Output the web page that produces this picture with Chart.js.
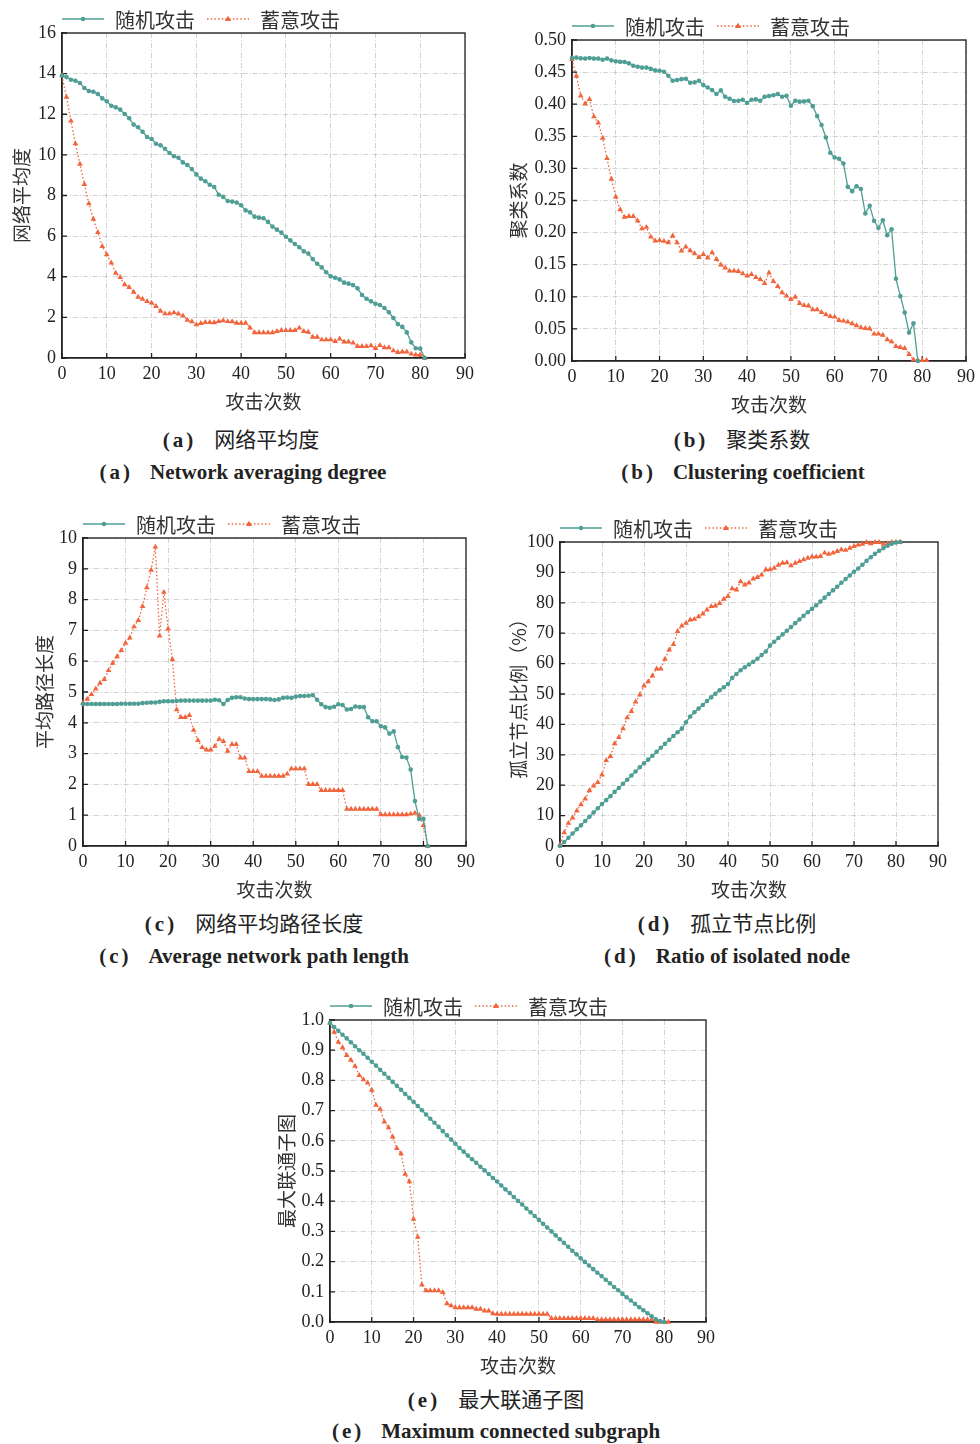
<!DOCTYPE html>
<html>
<head>
<meta charset="utf-8">
<script src="https://cdn.jsdelivr.net/npm/chart.js@4.4.1/dist/chart.umd.min.js"></script>
<style>
  body { margin: 0; background: #fff; width: 980px; height: 1444px; position: relative; overflow: hidden; }
  canvas { position: absolute; }
  .cap { position: absolute; transform: translateX(-50%); white-space: nowrap; color: #222; line-height: 26px; }
  .cap .lab { font: bold 21px "Liberation Serif"; letter-spacing: 3px; }
  .cn { font: 21px "Noto Sans CJK SC"; }
  .cn .lab { margin-right: 18px; }
  .en { font: bold 21px "Liberation Serif", "Noto Sans CJK SC"; }
  .en .lab { margin-right: 17px; }
</style>
</head>
<body>
<canvas id="chartA" width="479" height="413" style="left:0px;top:3px"></canvas>
<canvas id="chartB" width="480" height="409" style="left:500px;top:10px"></canvas>
<canvas id="chartC" width="460" height="396" style="left:20px;top:508px"></canvas>
<canvas id="chartD" width="452" height="392" style="left:500px;top:512px"></canvas>
<canvas id="chartE" width="455" height="390" style="left:265px;top:990px"></canvas>

<div class="cap cn" style="left:241px;top:423px"><span class="lab">(a)</span>网络平均度</div>
<div class="cap en" style="left:243px;top:460px"><span class="lab">(a)</span>Network averaging degree</div>
<div class="cap cn" style="left:742px;top:423px"><span class="lab">(b)</span>聚类系数</div>
<div class="cap en" style="left:743px;top:460px"><span class="lab">(b)</span>Clustering coefficient</div>
<div class="cap cn" style="left:254px;top:907px"><span class="lab">(c)</span>网络平均路径长度</div>
<div class="cap en" style="left:254px;top:944px"><span class="lab">(c)</span>Average network path length</div>
<div class="cap cn" style="left:727px;top:907px"><span class="lab">(d)</span>孤立节点比例</div>
<div class="cap en" style="left:727px;top:944px"><span class="lab">(d)</span>Ratio of isolated node</div>
<div class="cap cn" style="left:496px;top:1383px"><span class="lab">(e)</span>最大联通子图</div>
<div class="cap en" style="left:496px;top:1419px"><span class="lab">(e)</span>Maximum connected subgraph</div>

<script>
const attackCount = [0, 1, 2, 3, 4, 5, 6, 7, 8, 9, 10, 11, 12, 13, 14, 15, 16, 17, 18, 19,
  20, 21, 22, 23, 24, 25, 26, 27, 28, 29, 30, 31, 32, 33, 34, 35, 36, 37, 38, 39,
  40, 41, 42, 43, 44, 45, 46, 47, 48, 49, 50, 51, 52, 53, 54, 55, 56, 57, 58, 59,
  60, 61, 62, 63, 64, 65, 66, 67, 68, 69, 70, 71, 72, 73, 74, 75, 76, 77, 78, 79, 80, 81];

const seriesNames = ["随机攻击", "蓄意攻击"];
const xTitle = "攻击次数";

// (a) 网络平均度
const degreeRandom = [13.9, 13.83, 13.7, 13.65, 13.54, 13.29, 13.14, 13.11, 13.0, 12.78,
  12.64, 12.42, 12.34, 12.23, 12.01, 11.8, 11.49, 11.36, 11.14, 10.88,
  10.78, 10.55, 10.47, 10.3, 10.09, 9.93, 9.86, 9.63, 9.5, 9.3,
  9.04, 8.83, 8.7, 8.53, 8.42, 8.04, 7.93, 7.73, 7.7, 7.65,
  7.52, 7.27, 7.17, 6.96, 6.91, 6.88, 6.7, 6.47, 6.32, 6.17,
  5.97, 5.79, 5.61, 5.45, 5.25, 5.14, 4.87, 4.64, 4.46, 4.22,
  4.02, 3.95, 3.87, 3.71, 3.66, 3.59, 3.43, 3.1, 2.92, 2.79,
  2.67, 2.61, 2.46, 2.25, 1.97, 1.67, 1.53, 1.26, 0.77, 0.48,
  0.46, 0];
const degreeTargeted = [13.9, 12.85, 11.67, 10.55, 9.55, 8.55, 7.6, 6.84, 6.19, 5.5,
  5.09, 4.69, 4.18, 3.97, 3.61, 3.48, 3.25, 3.0, 2.9, 2.79,
  2.71, 2.54, 2.31, 2.18, 2.18, 2.23, 2.17, 2.08, 1.87, 1.79,
  1.64, 1.71, 1.76, 1.76, 1.74, 1.8, 1.84, 1.8, 1.79, 1.72,
  1.72, 1.72, 1.49, 1.25, 1.25, 1.25, 1.25, 1.25, 1.31, 1.36,
  1.36, 1.36, 1.36, 1.48, 1.31, 1.28, 1.03, 1.03, 0.9, 0.9,
  0.9, 0.82, 0.94, 0.8, 0.8, 0.74, 0.57, 0.57, 0.57, 0.61,
  0.48, 0.62, 0.51, 0.51, 0.36, 0.28, 0.3, 0.3, 0.2, 0.16,
  0.16, 0];

// (b) 聚类系数
const clusterRandom = [0.472, 0.4725, 0.4714, 0.471, 0.472, 0.471, 0.471, 0.4693, 0.471, 0.4683,
  0.467, 0.466, 0.4657, 0.4636, 0.46, 0.4584, 0.457, 0.457, 0.455, 0.4527,
  0.452, 0.4506, 0.4444, 0.4366, 0.4376, 0.439, 0.4397, 0.4335, 0.434, 0.4366,
  0.43, 0.426, 0.422, 0.416, 0.4215, 0.4116, 0.4085, 0.405, 0.4054, 0.407,
  0.4018, 0.407, 0.4075, 0.4054, 0.4116, 0.4127, 0.414, 0.416, 0.4116, 0.413,
  0.3976, 0.4054, 0.404, 0.4044, 0.4054, 0.397, 0.3815, 0.3675, 0.3482, 0.3243,
  0.317, 0.315, 0.3077, 0.2713, 0.2646, 0.2723, 0.268, 0.2297, 0.2417, 0.2183,
  0.2074, 0.2193, 0.196, 0.2053, 0.128, 0.101, 0.0754, 0.0442, 0.0587, 0,
  null, null];
const clusterTargeted = [0.47, 0.4439, 0.4132, 0.4007, 0.4075, 0.3805, 0.3711, 0.3472, 0.3155, 0.2833,
  0.2557, 0.236, 0.224, 0.2255, 0.2255, 0.2183, 0.2063, 0.2084, 0.1933, 0.1871,
  0.1881, 0.1866, 0.1845, 0.1949, 0.1845, 0.1715, 0.1778, 0.172, 0.1674, 0.1616,
  0.1663, 0.1606, 0.169, 0.1585, 0.1497, 0.145, 0.1403, 0.1403, 0.1398, 0.1362,
  0.1325, 0.1351, 0.1304, 0.1273, 0.1211, 0.1372, 0.1242, 0.1164, 0.1065, 0.1013,
  0.0961, 0.0998, 0.0899, 0.0868, 0.0858, 0.08, 0.08, 0.0759, 0.0722, 0.0696,
  0.0686, 0.0634, 0.0624, 0.0608, 0.0582, 0.0551, 0.052, 0.0509, 0.0504, 0.0421,
  0.0421, 0.0405, 0.0333, 0.0301, 0.0229, 0.0213, 0.0198, 0.0104, 0.002, 0.001,
  0.001, 0.001];

// (c) 网络平均路径长度
const pathRandom = [4.61, 4.61, 4.61, 4.61, 4.61, 4.61, 4.61, 4.61, 4.61, 4.62,
  4.62, 4.62, 4.62, 4.62, 4.64, 4.65, 4.66, 4.66, 4.68, 4.7,
  4.7, 4.7, 4.71, 4.72, 4.72, 4.72, 4.72, 4.72, 4.72, 4.72,
  4.72, 4.75, 4.73, 4.61, 4.74, 4.81, 4.83, 4.83, 4.79, 4.77,
  4.77, 4.77, 4.77, 4.77, 4.76, 4.74, 4.76, 4.81, 4.82, 4.81,
  4.85, 4.87, 4.87, 4.88, 4.9, 4.75, 4.6, 4.51, 4.49, 4.52,
  4.6, 4.58, 4.43, 4.45, 4.53, 4.51, 4.51, 4.18, 4.05, 4.05,
  3.89, 3.85, 3.65, 3.72, 3.21, 2.89, 2.87, 2.48, 1.46, 0.88,
  0.88, 0];
const pathTargeted = [4.65, 4.77, 4.92, 5.1, 5.29, 5.41, 5.7, 5.94, 6.15, 6.35,
  6.59, 6.76, 7.12, 7.33, 7.78, 8.39, 8.96, 9.71, 6.82, 8.24,
  7.05, 6.06, 4.43, 4.18, 4.18, 4.24, 3.76, 3.43, 3.2, 3.12,
  3.12, 3.24, 3.47, 3.4, 3.08, 3.3, 3.3, 2.86, 2.86, 2.42,
  2.42, 2.42, 2.27, 2.27, 2.27, 2.27, 2.27, 2.27, 2.34, 2.51,
  2.51, 2.51, 2.51, 2.0, 2.0, 2.0, 1.81, 1.81, 1.81, 1.81,
  1.81, 1.81, 1.2, 1.2, 1.2, 1.2, 1.2, 1.2, 1.2, 1.2,
  1.02, 1.02, 1.02, 1.02, 1.02, 1.02, 1.02, 1.04, 1.07, 1.0,
  0.67, 0];

// (d) 孤立节点比例
const isolatedRandom = [0, 1.3, 2.7, 4.1, 5.5, 6.8, 8.2, 9.6, 11.0, 12.4,
  13.8, 15.1, 16.4, 17.8, 19.1, 20.5, 21.8, 23.2, 24.5, 25.9,
  27.2, 28.4, 29.7, 31.0, 32.3, 33.6, 34.9, 36.2, 37.4, 38.6,
  40.7, 42.6, 44.0, 45.2, 46.4, 47.7, 48.9, 50.1, 51.2, 52.2,
  53.3, 55.3, 56.6, 57.8, 58.8, 59.7, 60.6, 61.6, 62.8, 64.0,
  65.9, 67.2, 68.4, 69.6, 70.8, 72.0, 73.3, 74.5, 75.7, 76.9,
  78.0, 79.2, 80.4, 81.7, 82.9, 84.1, 85.3, 86.6, 87.8, 89.0,
  90.2, 91.3, 92.5, 93.8, 95.0, 96.1, 97.1, 98.0, 98.8, 99.4,
  99.8, 100];
const isolatedTargeted = [0.5, 4.4, 7.5, 9.3, 11.6, 13.6, 15.5, 18.2, 19.8, 20.9,
  23.4, 28.2, 29.5, 33.7, 35.7, 38.6, 42.2, 44.3, 47.4, 49.7,
  52.7, 54.1, 56.0, 58.3, 58.3, 61.5, 64.5, 66.3, 70.6, 72.4,
  73.3, 74.4, 74.6, 75.5, 76.4, 77.7, 78.8, 79.0, 79.8, 81.2,
  82.1, 84.7, 84.3, 87.0, 85.9, 86.6, 87.9, 88.4, 89.2, 90.9,
  90.9, 91.4, 92.4, 93.1, 93.2, 92.2, 93.1, 93.6, 94.2, 94.7,
  95.1, 95.1, 95.3, 96.4, 96.0, 96.4, 96.9, 97.5, 97.3, 98.0,
  98.6, 99.1, 99.3, 99.9, 99.5, 99.9, 99.9, 99.3, 99.5, 99.9,
  100, 100];

// (e) 最大联通子图
const lccRandom = [0.990, 0.977, 0.964, 0.951, 0.939, 0.926, 0.913, 0.900, 0.888, 0.875,
  0.862, 0.849, 0.835, 0.822, 0.809, 0.795, 0.782, 0.769, 0.755, 0.742,
  0.729, 0.715, 0.701, 0.687, 0.673, 0.660, 0.646, 0.632, 0.618, 0.604,
  0.590, 0.576, 0.564, 0.551, 0.539, 0.527, 0.514, 0.502, 0.490, 0.477,
  0.465, 0.452, 0.439, 0.427, 0.414, 0.401, 0.389, 0.376, 0.363, 0.351,
  0.338, 0.325, 0.313, 0.300, 0.287, 0.274, 0.262, 0.249, 0.236, 0.224,
  0.211, 0.199, 0.187, 0.175, 0.163, 0.152, 0.140, 0.128, 0.116, 0.105,
  0.093, 0.082, 0.071, 0.060, 0.049, 0.039, 0.029, 0.019, 0.009, 0.003,
  0, null];
const lccTargeted = [0.99, 0.96, 0.927, 0.909, 0.883, 0.867, 0.847, 0.817, 0.803, 0.792,
  0.768, 0.718, 0.705, 0.663, 0.644, 0.613, 0.575, 0.558, 0.49, 0.465,
  0.341, 0.281, 0.123, 0.104, 0.104, 0.104, 0.104, 0.098, 0.061, 0.054,
  0.048, 0.048, 0.048, 0.048, 0.048, 0.043, 0.043, 0.037, 0.037, 0.028,
  0.026, 0.026, 0.026, 0.026, 0.026, 0.026, 0.026, 0.026, 0.026, 0.026,
  0.026, 0.026, 0.026, 0.012, 0.012, 0.012, 0.012, 0.012, 0.012, 0.012,
  0.012, 0.012, 0.012, 0.012, 0.008, 0.008, 0.008, 0.008, 0.008, 0.008,
  0.008, 0.008, 0.008, 0.008, 0.008, 0.008, 0.008, 0.008, 0, 0,
  0, 0];

const TEAL = "#4f9e95";
const ORANGE = "#f1643c";
const GRID = "#c6c6c6";
const TICK_FONT = { family: "'Liberation Serif'", size: 18 };
const CJK_FONT = { family: "'Noto Sans CJK SC'", size: 19 };

// legend drawn by hand: line sample with marker, then text
const legendPlugin = {
  id: "lineLegend",
  afterDraw(chart) {
    const { ctx, chartArea } = chart;
    const y = chartArea.top - 14;
    let x = chartArea.left;
    ctx.save();
    ctx.font = "20px 'Noto Sans CJK SC'";
    ctx.textBaseline = "middle";
    chart.data.datasets.forEach(ds => {
      ctx.strokeStyle = ds.borderColor;
      ctx.lineWidth = ds.borderWidth;
      ctx.setLineDash(ds.borderDash || []);
      ctx.beginPath();
      ctx.moveTo(x, y);
      ctx.lineTo(x + 42, y);
      ctx.stroke();
      ctx.setLineDash([]);
      ctx.fillStyle = ds.borderColor;
      const cx = x + 21;
      ctx.beginPath();
      if (ds.pointStyle === "triangle") {
        const r = ds.pointRadius;
        ctx.moveTo(cx, y - r);
        ctx.lineTo(cx + r * 0.95, y + r * 0.6);
        ctx.lineTo(cx - r * 0.95, y + r * 0.6);
        ctx.closePath();
      } else {
        ctx.arc(cx, y, ds.pointRadius, 0, Math.PI * 2);
      }
      ctx.fill();
      ctx.fillStyle = "#333";
      ctx.fillText(ds.label, x + 53, y + 1);
      x += 53 + ctx.measureText(ds.label).width + 12;
    });
    ctx.restore();
  }
};

// top and right sides of the frame, plus short inward tick marks
const framePlugin = {
  id: "frame",
  beforeDatasetsDraw(chart) {
    const { ctx, chartArea: a, scales } = chart;
    ctx.save();
    ctx.strokeStyle = "#333";
    ctx.lineWidth = 1.4;
    ctx.beginPath();
    ctx.moveTo(a.left, a.top);
    ctx.lineTo(a.right, a.top);
    ctx.lineTo(a.right, a.bottom);
    ctx.stroke();
    ctx.strokeStyle = "#222";
    ctx.lineWidth = 1.3;
    ctx.beginPath();
    scales.x.ticks.forEach(t => {
      const px = scales.x.getPixelForValue(t.value);
      ctx.moveTo(px, a.bottom);
      ctx.lineTo(px, a.bottom - 5);
    });
    scales.y.ticks.forEach(t => {
      const py = scales.y.getPixelForValue(t.value);
      ctx.moveTo(a.left, py);
      ctx.lineTo(a.left + 5, py);
    });
    ctx.stroke();
    ctx.restore();
  }
};

function points(values) {
  return attackCount.map((x, i) => ({ x: x, y: values[i] }));
}

function makeChart(id, box, yScale, yTitle, randomValues, targetedValues) {
  return new Chart(document.getElementById(id), {
    type: "line",
    data: {
      datasets: [{
        label: seriesNames[0],
        data: points(randomValues),
        borderColor: TEAL,
        backgroundColor: TEAL,
        borderWidth: 1.3,
        pointStyle: "circle",
        pointRadius: 2.3,
        pointBorderWidth: 0,
        spanGaps: false,
        clip: false
      }, {
        label: seriesNames[1],
        data: points(targetedValues),
        borderColor: ORANGE,
        backgroundColor: ORANGE,
        borderWidth: 1.3,
        borderDash: [1.5, 2.2],
        pointStyle: "triangle",
        pointRadius: 3.3,
        pointBorderWidth: 0,
        clip: false
      }]
    },
    options: {
      responsive: false,
      animation: false,
      events: [],
      layout: { padding: { top: 30, right: box.padRight, left: 0, bottom: 0 } },
      plugins: { legend: { display: false }, tooltip: { enabled: false } },
      scales: {
        x: {
          type: "linear",
          min: 0,
          max: 90,
          afterFit: s => { s.height = 58; },
          ticks: { stepSize: 10, padding: 5, color: "#222", font: TICK_FONT, maxRotation: 0 },
          grid: { color: GRID, lineWidth: 0.8, drawTicks: false },
          border: { color: "#222", width: 1.8, dash: [5, 2, 1, 2] },
          title: { display: true, text: xTitle, color: "#333", font: CJK_FONT, padding: { top: 0, bottom: 3 } }
        },
        y: {
          min: yScale.min,
          max: yScale.max,
          afterFit: s => { s.width = box.axisWidth; },
          ticks: { stepSize: yScale.step, padding: 6, color: "#222", font: TICK_FONT, callback: yScale.format },
          grid: { color: GRID, lineWidth: 0.8, drawTicks: false },
          border: { color: "#222", width: 1.8, dash: [5, 2, 1, 2] },
          title: { display: true, text: yTitle, color: "#333", font: CJK_FONT, padding: { top: box.titlePad, bottom: 0 } }
        }
      }
    },
    plugins: [framePlugin, legendPlugin]
  });
}

makeChart("chartA", { axisWidth: 62, titlePad: 10.6, padRight: 14 },
  { min: 0, max: 16, step: 2, format: v => v }, "网络平均度", degreeRandom, degreeTargeted);
makeChart("chartB", { axisWidth: 72, titlePad: 7.6, padRight: 11 },
  { min: 0, max: 0.5, step: 0.05, format: v => Number(v).toFixed(2) }, "聚类系数", clusterRandom, clusterTargeted);
makeChart("chartC", { axisWidth: 63, titlePad: 13.6, padRight: 14 },
  { min: 0, max: 10, step: 1, format: v => v }, "平均路径长度", pathRandom, pathTargeted);
makeChart("chartD", { axisWidth: 60, titlePad: 7.6, padRight: 14 },
  { min: 0, max: 100, step: 10, format: v => v }, "孤立节点比例（%）", isolatedRandom, isolatedTargeted);
makeChart("chartE", { axisWidth: 65, titlePad: 10.6, padRight: 14 },
  { min: 0, max: 1, step: 0.1, format: v => Number(v).toFixed(1) }, "最大联通子图", lccRandom, lccTargeted);
</script>
</body>
</html>
